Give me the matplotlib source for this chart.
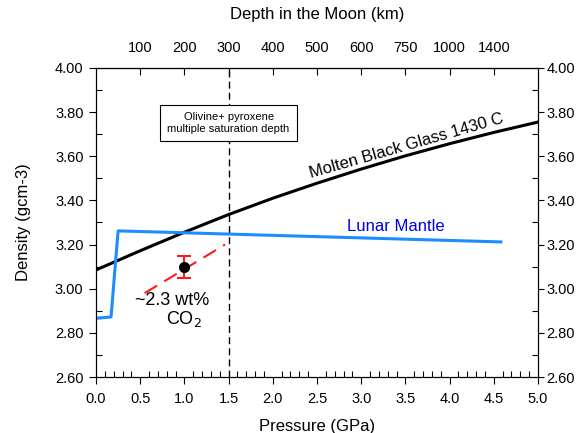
import numpy as np
import matplotlib
matplotlib.use("Agg")
from matplotlib import pyplot as plt
from matplotlib.ticker import MultipleLocator

plt.rcParams['font.family'] = ['Liberation Sans', 'DejaVu Sans']

# Molten black glass density curve (GPa, g/cm3)
glass_p = [0.0, 0.5, 1.0, 1.5, 2.0, 2.5, 3.0, 3.5, 4.0, 4.5, 5.0]
glass_d = [3.085, 3.172, 3.256, 3.336, 3.410, 3.478, 3.542, 3.602, 3.657, 3.708, 3.755]

# Lunar mantle density
mantle_p = [0.0, 0.17, 0.25, 4.58]
mantle_d = [2.866, 2.872, 3.262, 3.212]

# CO2 bearing melt estimate
co2_p = [0.55, 1.46]
co2_d = [2.98, 3.20]
pt_p = [1.0]
pt_d = [3.10]
pt_err = [0.05]

# Top axis: depth in the Moon
depth_pos = [0.5, 1.0, 1.5, 2.0, 2.5, 3.0, 3.5, 4.0, 4.5]
depth_lbl = ['100', '200', '300', '400', '500', '600', '750', '1000', '1400']

fig = plt.figure(figsize=(5.84, 4.33), dpi=100)
ax = fig.add_axes([0.1644, 0.1293, 0.7568, 0.7137])

ax.axvline(1.5, color='black', lw=1.0, ls=(0, (5, 3)), zorder=1)
ax.plot(glass_p, glass_d, color='black', lw=2.2, zorder=3)
ax.plot(mantle_p, mantle_d, color='#1e8cff', lw=2.2, zorder=3)
ax.plot(co2_p, co2_d, color='#ff1a1a', lw=1.5, ls=(0, (7, 4)), zorder=3)
ax.errorbar(pt_p, pt_d, yerr=pt_err, fmt='none', ecolor='#ff1a1a',
            elinewidth=1.5, capsize=5, capthick=1.5, zorder=4)
ax.plot(pt_p, pt_d, 'o', color='black', ms=7, zorder=5)

ax.text(1.5, 3.75, "Olivine+ pyroxene\nmultiple saturation depth", fontsize=8,
        ha='center', va='center', zorder=6,
        bbox=dict(boxstyle='square,pad=0.65', fc='white', ec='black', lw=0.8))
ax.text(3.51, 3.645, "Molten Black Glass 1430 C", fontsize=12, rotation=16,
        ha='center', va='center')
ax.text(3.39, 3.28, "Lunar Mantle", fontsize=12, color='#0000e6',
        ha='center', va='center')
ax.text(0.86, 2.945, "~2.3 wt%", fontsize=13, ha='center', va='center')
ax.text(0.99, 2.865, "CO$_2$", fontsize=13, ha='center', va='center')

ax.set_xlim(0, 5)
ax.set_ylim(2.6, 4.0)
ax.xaxis.set_major_locator(MultipleLocator(0.5))
ax.xaxis.set_minor_locator(MultipleLocator(0.1))
ax.yaxis.set_major_locator(MultipleLocator(0.2))
ax.yaxis.set_minor_locator(MultipleLocator(0.1))
ax.xaxis.set_major_formatter(lambda v, p: f"{v:.1f}")
ax.yaxis.set_major_formatter(lambda v, p: f"{v:.2f}")
ax.tick_params(which='major', direction='out', length=5, width=0.8,
               labelsize=10.5, pad=4)
ax.tick_params(which='minor', direction='in', length=4, width=0.8)
ax.tick_params(axis='x', which='major', pad=6)
ax.set_xlabel("Pressure (GPa)", fontsize=12, labelpad=9)
ax.set_ylabel("Density (gcm-3)", fontsize=12, labelpad=17)

# right axis copies density ticks
axr = ax.twinx()
axr.set_ylim(ax.get_ylim())
axr.yaxis.set_major_locator(MultipleLocator(0.2))
axr.yaxis.set_minor_locator(MultipleLocator(0.1))
axr.yaxis.set_major_formatter(lambda v, p: f"{v:.2f}")
axr.tick_params(which='major', direction='out', length=4, width=0.8,
                labelsize=10.5, pad=2)
axr.tick_params(which='minor', direction='in', length=4, width=0.8)

# top axis: depth
axt = ax.secondary_xaxis('top')
axt.set_xticks(depth_pos, depth_lbl)
axt.tick_params(direction='in', length=5, width=0.8, labelsize=10.5, pad=9)
axt.set_xlabel("Depth in the Moon (km)", fontsize=12, labelpad=16)

for a in (ax, axr):
    for s in a.spines.values():
        s.set_linewidth(0.8)

fig.savefig("out.png", dpi=100)
